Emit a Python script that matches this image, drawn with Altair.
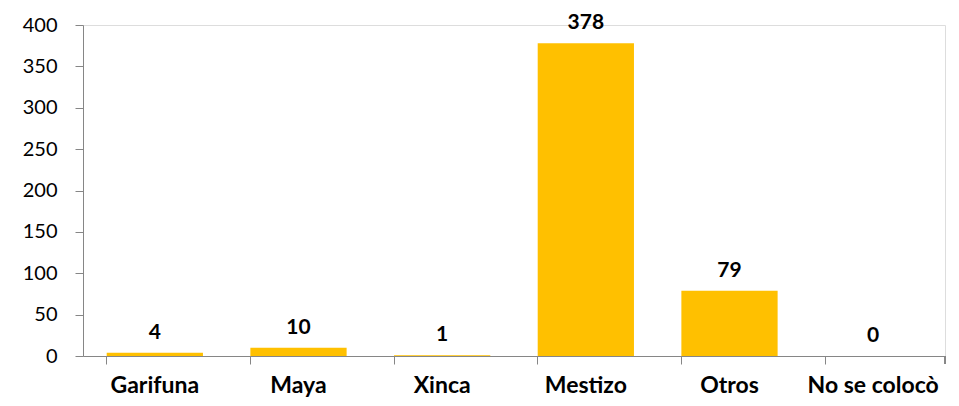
import altair as alt
import pandas as pd

categories = ["Garifuna", "Maya", "Xinca", "Mestizo", "Otros", "No se colocò"]
values = [4, 10, 1, 378, 79, 0]
y_ticks = [0, 50, 100, 150, 200, 250, 300, 350, 400]

df = pd.DataFrame({"cat": categories, "val": values})

W, H = 862, 331
FONT = "Lato"
AX = "#868686"

x = alt.X("cat:N", sort=categories, title=None,
          scale=alt.Scale(paddingInner=0.33, paddingOuter=0.165),
          axis=alt.Axis(labelAngle=0, labelFont=FONT, labelFontSize=23, labelFontWeight="bold",
                        labelColor="#000000", labelBaseline="alphabetic", labelPadding=28,
                        tickSize=8, tickColor=AX, domainColor=AX, bandPosition=0, grid=False))
y = alt.Y("val:Q", title=None,
          scale=alt.Scale(domain=[0, 400], nice=False),
          axis=alt.Axis(values=y_ticks, labelFont=FONT, labelFontSize=20, labelColor="#000000",
                        labelPadding=18, tickSize=8, tickColor=AX, domainColor=AX, grid=False))

bars = alt.Chart(df).mark_bar(color="#FFC000").encode(x=x, y=y)
labels = alt.Chart(df).mark_text(font=FONT, fontSize=21, fontWeight="bold", color="#000000",
                                 baseline="alphabetic", dy=-14).encode(
    x=alt.X("cat:N", sort=categories), y="val:Q", text="val:Q")
end_tick = alt.Chart(df).mark_rule(color=AX).encode(
    x=alt.value(W), y=alt.value(H), y2=alt.value(H + 8))

chart = alt.layer(bars, labels, end_tick).properties(
    width=W, height=H,
    autosize=alt.AutoSizeParams(type="none"),
    padding={"left": 75, "top": 17, "right": 6, "bottom": 42},
).configure_view(stroke=None).configure(background="white")

chart.save("out.html", embed_options={"renderer": "svg", "actions": False})
